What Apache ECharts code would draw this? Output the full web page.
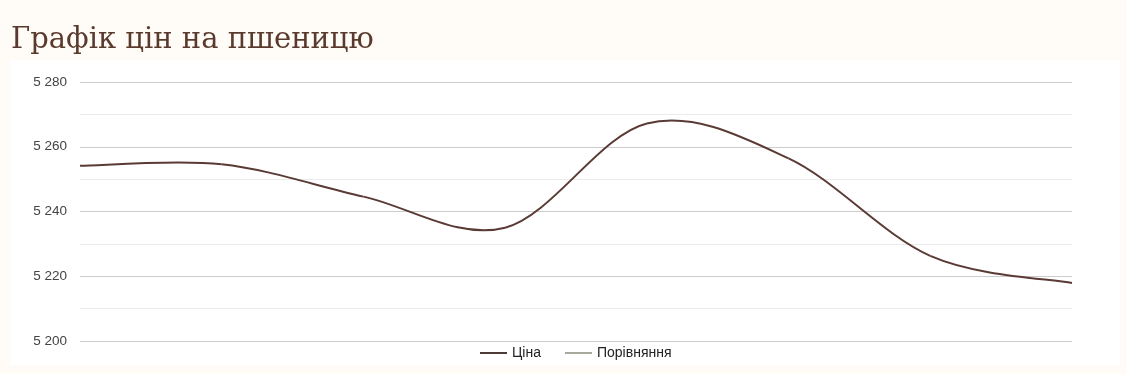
<!DOCTYPE html>
<html>
<head>
<meta charset="utf-8">
<script src="https://cdn.jsdelivr.net/npm/echarts@6/dist/echarts.min.js"></script>
<style>
html,body{margin:0;padding:0;background:#fffcf8;}
#c{width:1127px;height:374px;}
</style>
</head>
<body>
<div id="c"></div>
<script>
const categories = ['1','2','3','4','5','6','7','8'];
const priceValues = [5254.1, 5254.6, 5244.6, 5235.0, 5267.2, 5256.4, 5226.3, 5217.9];
const compareValues = [];
const yTicks = [5200, 5220, 5240, 5260, 5280];

const priceColor = '#5a3a34';

function renderSmooth(params, api) {
  const i = params.dataIndex;
  const n = priceValues.length;
  if (i >= n - 1) return null;
  const pt = k => api.coord([Math.max(0, Math.min(n - 1, k)), priceValues[Math.max(0, Math.min(n - 1, k))]]);
  const p0 = pt(i - 1), p1 = pt(i), p2 = pt(i + 1), p3 = pt(i + 2);
  const t = 1 / 6;
  return {
    type: 'bezierCurve',
    shape: {
      x1: p1[0], y1: p1[1], x2: p2[0], y2: p2[1],
      cpx1: p1[0] + (p2[0] - p0[0]) * t, cpy1: p1[1] + (p2[1] - p0[1]) * t,
      cpx2: p2[0] - (p3[0] - p1[0]) * t, cpy2: p2[1] - (p3[1] - p1[1]) * t
    },
    style: {stroke: priceColor, lineWidth: 2, fill: null}
  };
}

const chart = echarts.init(document.getElementById('c'), null, {renderer:'canvas'});
chart.setOption({
  backgroundColor: 'transparent',
  animation: false,
  graphic: [{
    type: 'rect', z: -10, silent: true,
    shape: {x: 10, y: 60, width: 1110, height: 305},
    style: {fill: '#ffffff'}
  }],
  title: {
    text: 'Графік цін на пшеницю',
    left: 6, top: 21,
    textStyle: {fontFamily: 'DejaVu Serif', fontSize: 29, fontWeight: 'normal', color: '#5b3a2e'}
  },
  grid: {left: 80, right: 55, top: 82, bottom: 33},
  legend: {
    bottom: 9, left: 475,
    icon: 'rect', itemWidth: 27, itemHeight: 2, itemGap: 24,
    textStyle: {fontFamily: 'Liberation Sans, Arial', fontSize: 14, color: '#222'},
    data: ['Ціна', 'Порівняння']
  },
  xAxis: {
    type: 'category', data: categories, boundaryGap: false,
    axisLine: {show: false}, axisTick: {show: false}, axisLabel: {show: false}, splitLine: {show: false}
  },
  yAxis: {
    type: 'value', min: yTicks[0], max: yTicks[yTicks.length-1], interval: 20,
    axisLine: {show: false}, axisTick: {show: false},
    axisLabel: {
      fontFamily: 'Liberation Sans, Arial', fontSize: 13.5, color: '#444', margin: 13,
      formatter: v => String(v).replace(/\B(?=(\d{3})+(?!\d))/g, ' ')
    },
    splitLine: {lineStyle: {color: '#cccccc', width: 1}},
    minorTick: {show: false, splitNumber: 2},
    minorSplitLine: {show: true, lineStyle: {color: '#ebebeb', width: 1}}
  },
  series: [
    {name: 'Ціна', type: 'custom', renderItem: renderSmooth,
     data: priceValues.map((v, i) => [i, v]), encode: {x: 0, y: 1},
     itemStyle: {color: '#4d3b37'}},
    {name: 'Порівняння', type: 'line', data: compareValues, showSymbol: false,
     lineStyle: {color: '#a8a89c', width: 2}, itemStyle: {color: '#a8a89c'}}
  ]
});
</script>
</body>
</html>
